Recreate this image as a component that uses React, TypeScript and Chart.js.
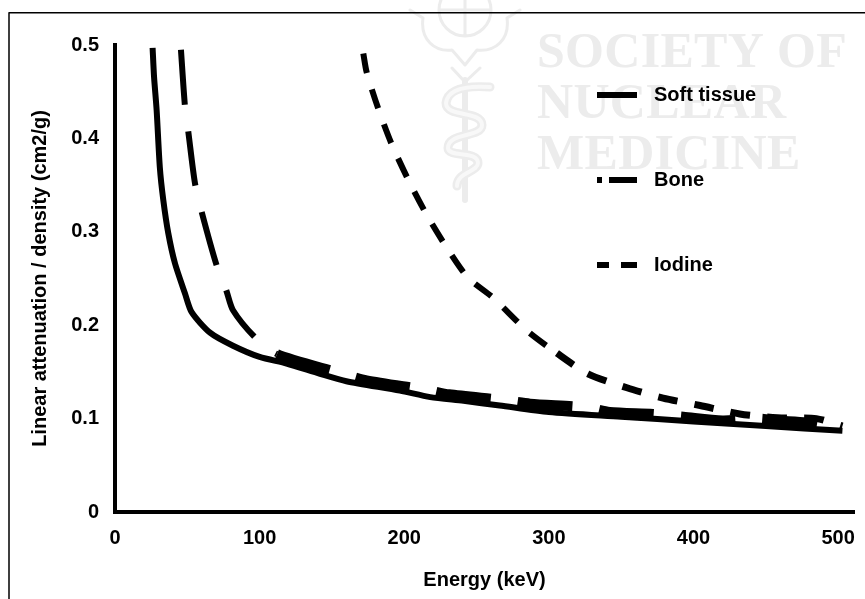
import React, { useEffect, useRef } from "react";
import { Chart, registerables } from "chart.js";

Chart.register(...registerables);

const softEnergy = [26, 27, 28.8, 31, 33.4, 36.9, 41.5, 48.4, 53, 65.7, 81.6, 100, 118.7, 141.8, 160, 197, 218, 241, 266, 300, 350, 400, 450, 503];
const softValues = [0.497, 0.466, 0.43, 0.369, 0.334, 0.298, 0.266, 0.234, 0.214, 0.192, 0.178, 0.166, 0.159, 0.148, 0.14, 0.13, 0.123, 0.119, 0.114, 0.107, 0.102, 0.097, 0.092, 0.087];
const boneEnergy = [45.6, 48.4, 50.7, 55.3, 60, 70.3, 77, 81.6, 96.8, 112, 153, 174, 215, 231, 268, 287, 326, 342, 372, 393, 420, 446, 458, 478, 503];
const boneValues = [0.495, 0.434, 0.407, 0.352, 0.321, 0.264, 0.237, 0.216, 0.187, 0.169, 0.15, 0.141, 0.131, 0.126, 0.12, 0.116, 0.112, 0.107, 0.105, 0.102, 0.098, 0.1, 0.098, 0.096, 0.09];
const iodineEnergy = [171.7, 174, 182, 191, 203, 215.6, 229, 244, 261, 285, 305.6, 327, 354, 379, 404.6, 432, 458, 485, 503];
const iodineValues = [0.491, 0.471, 0.432, 0.395, 0.355, 0.318, 0.284, 0.251, 0.23, 0.194, 0.17, 0.148, 0.133, 0.122, 0.114, 0.105, 0.101, 0.1, 0.092];
const seriesNames = ["Soft tissue", "Bone", "Iodine"];
const xTicks = [0, 100, 200, 300, 400, 500];
const yTicks = [0, 0.1, 0.2, 0.3, 0.4, 0.5];
const watermarkLines = ["SOCIETY OF", "NUCLEAR", "MEDICINE"];

const FONT = "'Liberation Sans', Arial, sans-serif";
const INK = "#000";
const legendDashes = [[40, 16, 40, 0], [5, 9, 26, 16, 26, 9, 5, 0], [12, 14, 14, 16, 14, 14, 12, 0]];
const toPoints = (xs: number[], ys: number[]) => xs.map((x, i) => ({ x, y: ys[i] }));

const backdrop = {
  id: "backdrop",
  beforeDraw(chart: any) {
    const c = chart.ctx as CanvasRenderingContext2D;
    c.save();
    c.fillStyle = "#fff";
    c.fillRect(0, 0, chart.width, chart.height);
    const g = "#ececec";
    c.fillStyle = g;
    c.font = "bold 50px 'Liberation Serif', serif";
    c.textBaseline = "alphabetic";
    c.textAlign = "left";
    (c as any).letterSpacing = "0.3px";
    watermarkLines.forEach((t, i) => c.fillText(t, 537, 67 + i * 51));
    (c as any).letterSpacing = "0px";
    c.lineJoin = "round";
    c.lineCap = "round";
    c.strokeStyle = g;
    c.lineWidth = 3;
    c.beginPath();
    c.arc(465, 10, 26, 0, Math.PI * 2);
    c.moveTo(439, 10);
    c.lineTo(491, 10);
    c.moveTo(465, -16);
    c.lineTo(465, 36);
    c.moveTo(423, 18);
    c.bezierCurveTo(420, 40, 435, 52, 452, 50);
    c.lineTo(465, 65);
    c.lineTo(477, 50);
    c.bezierCurveTo(495, 52, 510, 40, 507, 18);
    c.moveTo(410, 10);
    c.lineTo(423, 18);
    c.moveTo(520, 10);
    c.lineTo(507, 18);
    c.moveTo(452, 68);
    c.lineTo(465, 82);
    c.lineTo(480, 68);
    c.stroke();
    const snake = () => {
      c.beginPath();
      c.moveTo(490, 87);
      c.bezierCurveTo(475, 86, 448, 86, 446, 103);
      c.bezierCurveTo(446, 118, 482, 110, 482, 125);
      c.bezierCurveTo(482, 138, 448, 132, 448, 148);
      c.bezierCurveTo(448, 158, 478, 150, 478, 163);
      c.bezierCurveTo(478, 172, 457, 172, 457, 186);
      c.stroke();
    };
    c.lineWidth = 6;
    c.beginPath();
    c.moveTo(465, 80);
    c.lineTo(465, 200);
    c.stroke();
    c.lineWidth = 9;
    snake();
    c.strokeStyle = "#f8f8f8";
    c.lineWidth = 4;
    snake();
    c.lineCap = "butt";
    c.strokeStyle = "#000";
    c.lineWidth = 1.5;
    c.beginPath();
    c.moveTo(9, 599);
    c.lineTo(9, 12.7);
    c.lineTo(865, 12.7);
    c.stroke();
    c.restore();
  },
};

const placeLegend = {
  id: "placeLegend",
  afterLayout(chart: any) {
    const l = chart.legend;
    const w = l.width;
    const h = l.height;
    l.left = 532;
    l.top = 20;
    l.right = l.left + w;
    l.bottom = l.top + h;
  },
};

export default function App() {
  const ref = useRef<HTMLCanvasElement>(null);
  useEffect(() => {
    document.body.style.margin = "0";
    const common = { borderColor: INK, backgroundColor: INK, pointRadius: 0, borderWidth: 6, tension: 0.25, fill: false };
    const chart = new Chart(ref.current!, {
      type: "line",
      data: {
        datasets: [
          { ...common, label: seriesNames[0], data: toPoints(softEnergy, softValues) },
          {
            ...common,
            label: seriesNames[1],
            data: toPoints(boneEnergy, boneValues),
            borderDash: [55, 27],
            segment: { borderWidth: (ctx: any) => (ctx.p0.parsed.x >= 100 ? 10 : 6) },
          },
          {
            ...common,
            label: seriesNames[2],
            data: toPoints(iodineEnergy, iodineValues),
            borderDash: [20, 17],
            segment: { borderWidth: (ctx: any) => (ctx.p0.parsed.x >= 300 ? 7 : 6) },
          },
        ],
      },
      options: {
        animation: false,
        responsive: false,
        layout: { padding: { top: 45, right: 11, left: 0, bottom: 0 } },
        plugins: {
          tooltip: { enabled: false },
          legend: {
            position: "chartArea" as any,
            align: "start",
            labels: {
              color: INK,
              font: { family: FONT, size: 20, weight: "bold" },
              boxWidth: 47,
              boxHeight: 0,
              padding: 65,
              generateLabels(chart: any) {
                const base = Chart.defaults.plugins.legend.labels.generateLabels(chart);
                return base.map((it: any, i: number) => ({ ...it, lineDash: legendDashes[i], lineWidth: 6, fillStyle: INK, strokeStyle: INK }));
              },
            },
          },
        },
        scales: {
          x: {
            type: "linear",
            min: 0,
            max: 511,
            afterFit(s: any) { s.height = 87; },
            afterBuildTicks(s: any) { s.ticks = xTicks.map((value) => ({ value })); },
            border: { color: INK, width: 4 },
            grid: { display: false, drawTicks: true, tickLength: 10, tickWidth: 3, tickColor: INK, drawOnChartArea: false },
            ticks: { color: INK, font: { family: FONT, size: 20, weight: "bold" }, padding: 4, maxRotation: 0, autoSkip: false },
            title: { display: true, text: "Energy (keV)", color: INK, font: { family: FONT, size: 20, weight: "bold" }, padding: { top: 10, bottom: 7 } },
          },
          y: {
            type: "linear",
            min: 0,
            max: 0.5,
            afterFit(s: any) { s.width = 115; },
            afterBuildTicks(s: any) { s.ticks = yTicks.map((value) => ({ value })); },
            border: { color: INK, width: 4 },
            grid: { display: false, tickLength: 10, tickWidth: 3, tickColor: INK, drawOnChartArea: false },
            ticks: { color: INK, font: { family: FONT, size: 20, weight: "bold" }, padding: 6, autoSkip: false, callback: (v: any) => String(v) },
            title: { display: true, text: "Linear attenuation / density (cm2/g)", color: INK, font: { family: FONT, size: 20, weight: "bold" }, padding: { top: 28, bottom: 0 } },
          },
        },
      },
      plugins: [backdrop, placeLegend],
    } as any);
    return () => chart.destroy();
  }, []);
  return <canvas ref={ref} width={865} height={599} style={{ display: "block", width: 865, height: 599 }} />;
}
